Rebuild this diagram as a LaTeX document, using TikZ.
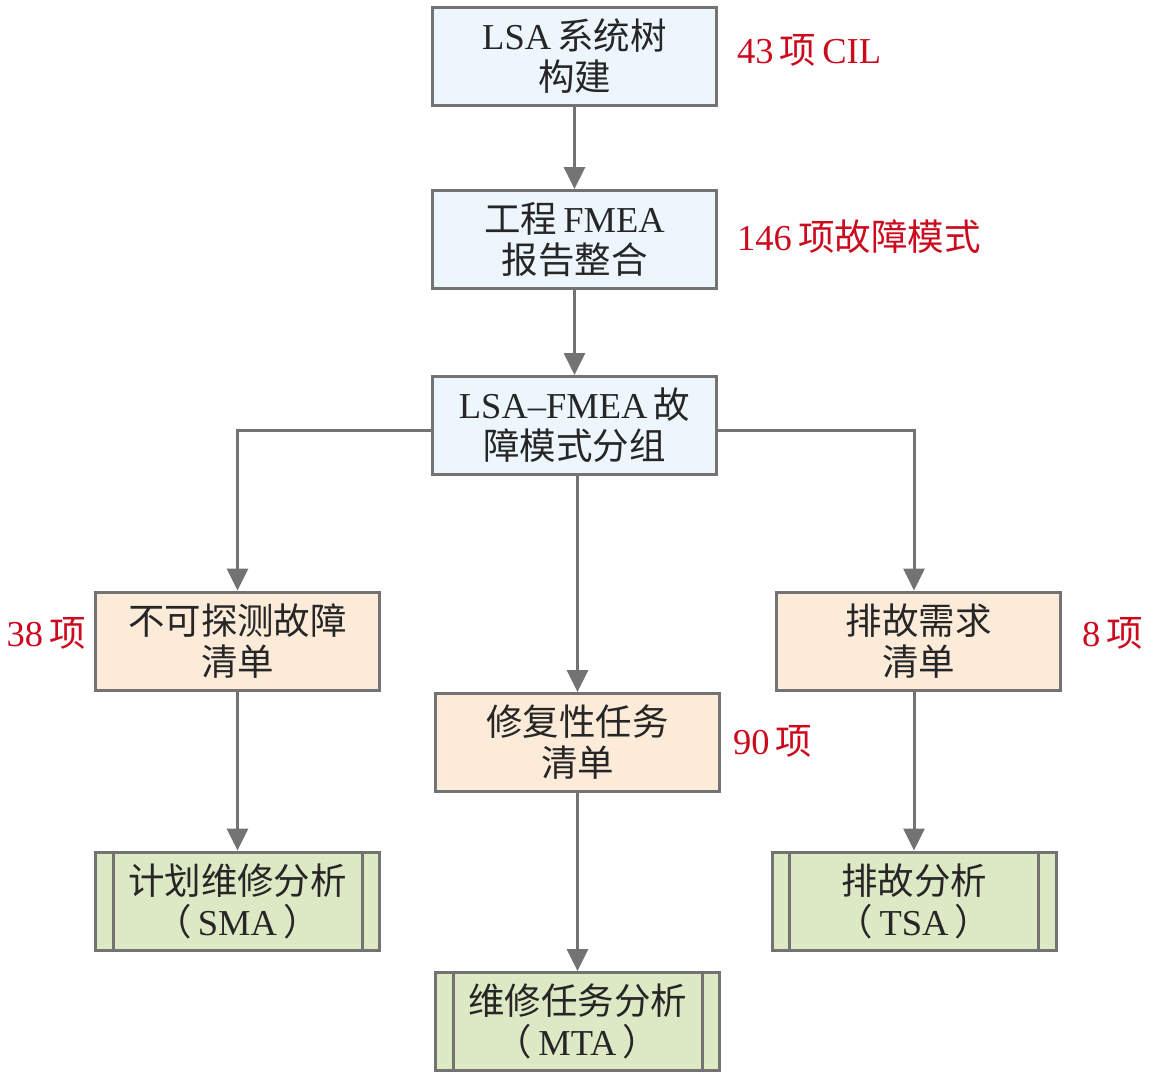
\documentclass[tikz,border=0pt]{standalone}
\usepackage{fontspec}
\setmainfont{Liberation Serif}
\newfontfamily\cjk{Noto Sans CJK SC}
\usetikzlibrary{arrows.meta}
\definecolor{lineg}{HTML}{737373}
\definecolor{bluef}{HTML}{EEF6FD}
\definecolor{peachf}{HTML}{FCEBD9}
\definecolor{greenf}{HTML}{DDE9C5}
\definecolor{redt}{HTML}{CC0A1E}
\begin{document}
\begin{tikzpicture}[x=1pt,y=-1pt,
  box/.style={draw=lineg, line width=3pt, minimum width=284pt, minimum height=98pt,
    align=center, inner sep=0pt, font=\fontsize{36.5}{41}\selectfont, text=black!85},
  bluebox/.style={box, fill=bluef},
  peachbox/.style={box, fill=peachf},
  greenbox/.style={box, fill=greenf},
  arr/.style={draw=lineg, line width=3pt, -{Triangle[width=21pt,length=22pt]}},
  plain/.style={draw=lineg, line width=3pt},
  lbl/.style={inner sep=0pt, text=redt, font=\fontsize{36.5}{41}\selectfont}]
\useasboundingbox (0,0) rectangle (1163,1085);

\node[bluebox] (b1) at (574.5,56.5) {LSA\,{\cjk 系统树}\\{\cjk 构建}};
\node[bluebox] (b2) at (574.5,239.5) {{\cjk 工程}\,FMEA\\{\cjk 报告整合}};
\node[bluebox] (b3) at (574.5,425.5) {LSA--FMEA\,{\cjk 故}\\{\cjk 障模式分组}};
\node[peachbox] (b4) at (237.5,641) {{\cjk 不可探测故障}\\{\cjk 清单}};
\node[peachbox] (b5) at (577.5,742.5) {{\cjk 修复性任务}\\{\cjk 清单}};
\node[peachbox] (b6) at (918.5,641) {{\cjk 排故需求}\\{\cjk 清单}};
\node[greenbox] (b7) at (237.5,901) {{\cjk 计划维修分析}\\{\cjk （}\,SMA\,{\cjk ）}};
\node[greenbox] (b8) at (577.5,1021.5) {{\cjk 维修任务分析}\\{\cjk （}\,MTA\,{\cjk ）}};
\node[greenbox] (b9) at (914,901) {{\cjk 排故分析}\\{\cjk （}\,TSA\,{\cjk ）}};

\foreach \n in {b7,b8,b9}{
  \draw[plain] ([xshift=19pt]\n.north west) -- ([xshift=19pt]\n.south west);
  \draw[plain] ([xshift=-19pt]\n.north east) -- ([xshift=-19pt]\n.south east);
}

\node[lbl, anchor=west] (l1) at (737,50) {43\,{\cjk 项}\,CIL};
\node[lbl, anchor=west] (l2) at (737,237) {146\,{\cjk 项故障模式}};
\node[lbl, anchor=east] (l3) at (86,633) {38\,{\cjk 项}};
\node[lbl, anchor=west] (l4) at (1082,633) {8\,{\cjk 项}};
\node[lbl, anchor=west] (l5) at (733,741) {90\,{\cjk 项}};

\draw[arr] (b1) -- (b2);
\draw[arr] (b2) -- (b3);
\draw[arr] ([yshift=-5pt]b3.west) -| (b4.north);
\draw[arr] ([yshift=-5pt]b3.east) -| ([xshift=-4.5pt]b6.north);
\draw[arr] ([xshift=3pt]b3.south) -- (b5.north);
\draw[arr] (b4) -- (b7);
\draw[arr] (b5) -- (b8);
\draw[arr] ([xshift=-4.5pt]b6.south) -- (b9.north);
\end{tikzpicture}
\end{document}
